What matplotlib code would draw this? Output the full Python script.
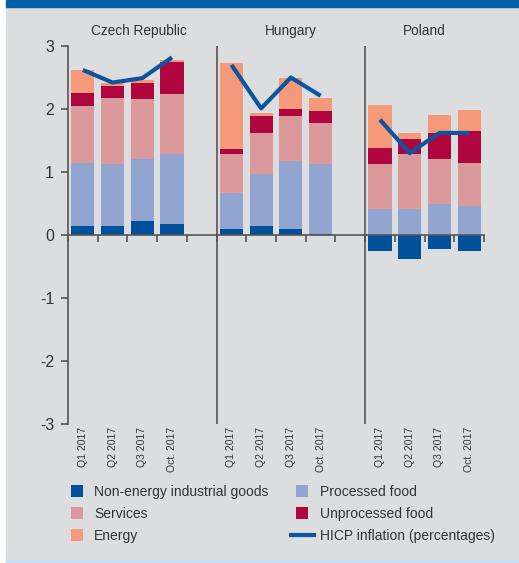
import matplotlib.pyplot as plt
import numpy as np
from matplotlib.lines import Line2D
from matplotlib.patches import Rectangle

plt.rcParams['font.family'] = ['Liberation Sans Narrow', 'Liberation Sans', 'DejaVu Sans']

countries = ['Czech Republic', 'Hungary', 'Poland']
periods = ['Q1 2017', 'Q2 2017', 'Q3 2017', 'Oct. 2017']

# contributions, Czech Republic / Hungary / Poland, four periods each
neig = [0.15, 0.15, 0.22, 0.18, 0.10, 0.15, 0.10, 0.02, -0.25, -0.38, -0.22, -0.25]
processed = [0.99, 0.98, 0.99, 1.11, 0.56, 0.82, 1.07, 1.11, 0.41, 0.41, 0.49, 0.46]
services = [0.91, 1.04, 0.95, 0.95, 0.63, 0.65, 0.72, 0.65, 0.72, 0.88, 0.72, 0.68]
unprocessed = [0.21, 0.20, 0.25, 0.50, 0.08, 0.27, 0.11, 0.19, 0.25, 0.23, 0.41, 0.51]
energy = [0.36, 0.04, 0.05, 0.04, 1.36, 0.05, 0.49, 0.20, 0.68, 0.10, 0.28, 0.33]
hicp = [2.62, 2.42, 2.49, 2.82, 2.70, 2.01, 2.50, 2.21, 1.83, 1.30, 1.62, 1.62]

series = [
    ('Non-energy industrial goods', neig, '#00509c'),
    ('Processed food', processed, '#91a5d0'),
    ('Services', services, '#dc999c'),
    ('Unprocessed food', unprocessed, '#b0063f'),
    ('Energy', energy, '#f4997a'),
]
line_col = '#0c559f'
bg = '#dcdddf'
axis_col = '#555555'

# slot positions: 4 bars per country, one empty slot between countries
xpos = np.array([g * 5 + i + 0.5 for g in range(3) for i in range(4)])

fig = plt.figure(figsize=(5.19, 5.63), dpi=100, facecolor='white')
fig.patches.append(Rectangle((6 / 519, 0), 1, 1, transform=fig.transFigure,
                             color=bg, zorder=-10))
fig.patches.append(Rectangle((6 / 519, 1 - 7 / 563), 1, 7 / 563,
                             transform=fig.transFigure, color='#0060a8', zorder=-9))
fig.patches.append(Rectangle((6 / 519, 0), 1, 3 / 563,
                             transform=fig.transFigure, color='#c8dcef', zorder=-9))

ax = fig.add_axes([68 / 519, (563 - 424) / 563, (484 - 68) / 519, (424 - 46) / 563])
ax.set_facecolor('none')

pos_base = np.zeros(len(xpos))
neg_base = np.zeros(len(xpos))
handles = {}
for name, vals, col in series:
    vals = np.array(vals)
    bottom = np.where(vals >= 0, pos_base, neg_base)
    ax.bar(xpos, vals, width=0.78, bottom=bottom, color=col, linewidth=0, zorder=2)
    pos_base = pos_base + np.clip(vals, 0, None)
    neg_base = neg_base + np.clip(vals, None, 0)
    handles[name] = Line2D([], [], marker='s', markersize=8, linestyle='none',
                           color=col, markeredgewidth=0)

for g in range(3):
    ax.plot(xpos[g * 4:g * 4 + 4], hicp[g * 4:g * 4 + 4], color=line_col, lw=3,
            zorder=4, solid_capstyle='butt')
handles['HICP inflation (percentages)'] = Line2D([], [], color=line_col, lw=3)

ax.set_xlim(0, 14)
ax.set_ylim(-3, 3)
ax.set_yticks([-3, -2, -1, 0, 1, 2, 3])
ax.set_yticklabels(['-3', '-2', '-1', '0', '1', '2', '3'])
ax.tick_params(axis='y', length=5, width=1.2, color=axis_col, labelsize=11.5,
               labelcolor='#333333', pad=5)
ax.set_xticks(np.arange(15))
ax.set_xticklabels([])
ax.tick_params(axis='x', length=5, width=1.2, color=axis_col, direction='out')

for s in ['top', 'right']:
    ax.spines[s].set_visible(False)
ax.spines['bottom'].set_position(('data', 0))
ax.spines['bottom'].set_color(axis_col)
ax.spines['bottom'].set_linewidth(1.2)
ax.spines['left'].set_color(axis_col)
ax.spines['left'].set_linewidth(1.2)

ax.vlines([5, 10], -3, 3, color=axis_col, lw=1.2, zorder=1)

centers = [2.5 - 0.1, 7.5, 12.0]
for c, name in zip(centers, countries):
    ax.text(c, 3.13, name, ha='center', va='bottom', fontsize=9.8, color='#333333')

for x, lab in zip(xpos, periods * 3):
    ax.text(x, -0.008, lab, transform=ax.get_xaxis_transform(), rotation=90,
            ha='center', va='top', fontsize=7.5, color='#333333')

order = ['Non-energy industrial goods', 'Services', 'Energy',
         'Processed food', 'Unprocessed food', 'HICP inflation (percentages)']
fig.legend([handles[k] for k in order], order, ncol=2, frameon=False,
           loc='upper left', bbox_to_anchor=(60 / 519, 1 - 479 / 563),
           fontsize=10, handlelength=1.6, handletextpad=0.45,
           columnspacing=1.65, labelspacing=0.58, borderaxespad=0,
           labelcolor='#333333')

fig.savefig('out.png', dpi=100, facecolor=fig.get_facecolor())
